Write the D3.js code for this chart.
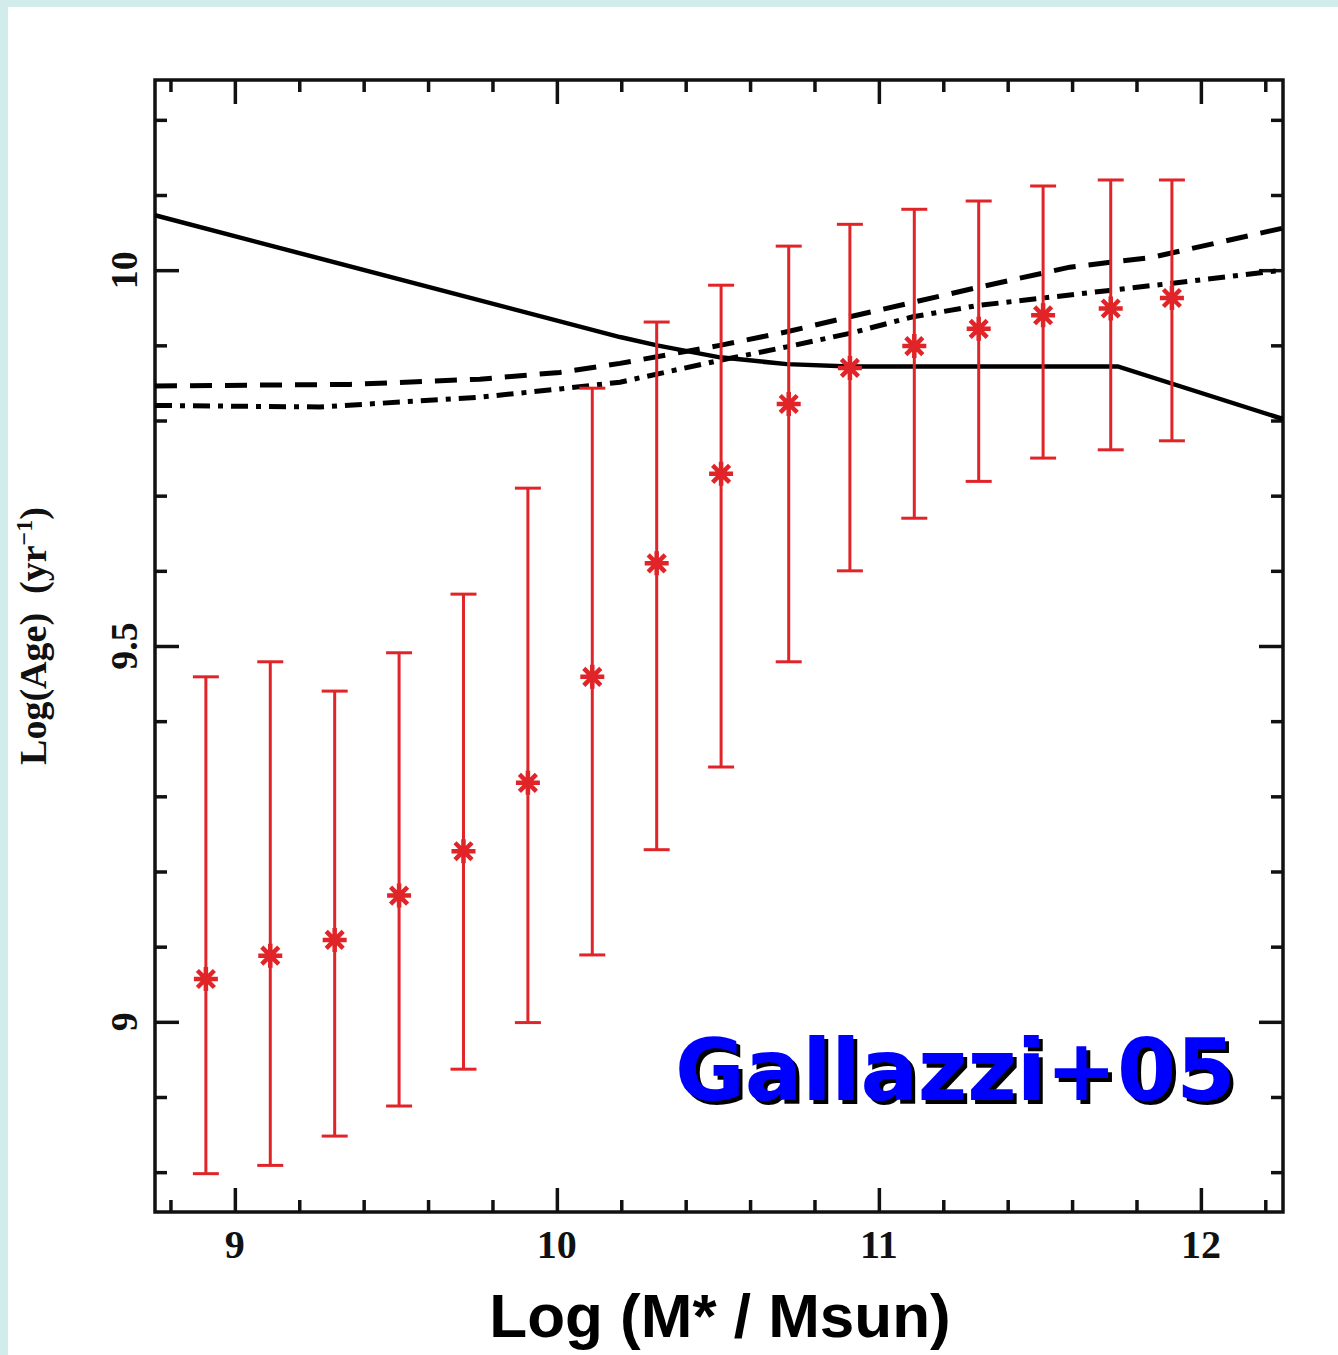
<!DOCTYPE html>
<html lang="en">
<head>
    <meta charset="UTF-8">
    <title>Log(Age) vs Log(M*/Msun) - Gallazzi+05</title>
    <script src="https://d3js.org/d3.v7.min.js"></script>
    <style>
        body {
            margin: 0;
            padding: 0;
            background-color: #d2ecec;
        }
        svg {
            display: block;
        }
        .tick-label {
            font-family: "Liberation Serif", "Times New Roman", serif;
            font-weight: bold;
            fill: #111;
        }
    </style>
</head>
<body>
    <svg width="1338" height="1355"></svg>
    <script>
        // stellar mass bins (log M*)
        const massBins = [8.91, 9.11, 9.31, 9.51, 9.71, 9.91, 10.11, 10.31, 10.51, 10.72, 10.91, 11.11, 11.31, 11.51, 11.72, 11.91];
        // median log age and the spread around it
        const ageMedian = [9.057, 9.088, 9.109, 9.168, 9.227, 9.318, 9.459, 9.61, 9.729, 9.822, 9.870, 9.899, 9.922, 9.940, 9.949, 9.963];
        const ageHigh = [9.459, 9.479, 9.44, 9.491, 9.569, 9.71, 9.843, 9.931, 9.98, 10.032, 10.061, 10.081, 10.092, 10.112, 10.12, 10.12];
        const ageLow = [8.798, 8.809, 8.848, 8.888, 8.937, 8.999, 9.089, 9.229, 9.339, 9.479, 9.6, 9.67, 9.719, 9.75, 9.761, 9.773];

        // model curves
        const solidCurve = [[8.752, 10.073], [10.196, 9.911], [10.311, 9.900], [10.506, 9.884], [10.714, 9.875], [10.910, 9.872], [11.742, 9.872], [12.255, 9.802]];
        const dashedCurve = [[8.752, 9.846], [9.357, 9.848], [9.761, 9.855], [10.009, 9.864], [10.196, 9.876], [10.506, 9.900], [10.714, 9.918], [10.910, 9.938], [11.307, 9.977], [11.593, 10.004], [11.848, 10.017], [12.255, 10.056]];
        const dashDotCurve = [[8.752, 9.820], [9.264, 9.818], [9.761, 9.831], [10.009, 9.842], [10.196, 9.851], [10.506, 9.880], [10.714, 9.898], [10.910, 9.916], [11.106, 9.938], [11.307, 9.953], [11.531, 9.964], [11.919, 9.983], [12.255, 10.000]];

        const xTickLabels = [9, 10, 11, 12];
        const yTickLabels = [9, 9.5, 10];

        const svg = d3.select("svg");

        // drop shadow for the blue label
        svg.append("defs").append("filter")
            .attr("id", "shadow")
            .attr("x", "-5%").attr("y", "-10%")
            .attr("width", "115%").attr("height", "130%")
            .append("feDropShadow")
            .attr("dx", 4).attr("dy", 4)
            .attr("stdDeviation", 0)
            .attr("flood-color", "#000")
            .attr("flood-opacity", 1);

        // white panel over the cyan page
        svg.append("rect")
            .attr("x", 8).attr("y", 7)
            .attr("width", 1330).attr("height", 1348)
            .attr("fill", "#ffffff");

        const plotLeft = 155, plotRight = 1283, plotTop = 80, plotBottom = 1212;

        const x = d3.scaleLinear().domain([8.752, 12.255]).range([plotLeft, plotRight]);
        const y = d3.scaleLinear().domain([8.747, 10.253]).range([plotBottom, plotTop]);

        const xMajor = d3.range(9, 12.01, 1);
        const xMinor = d3.range(8.8, 12.25, 0.2).filter(v => Math.abs(v - Math.round(v)) > 0.01);
        const yMajor = d3.range(9, 10.01, 0.5);
        const yMinor = d3.range(8.8, 10.25, 0.1).filter(v => Math.abs(v * 2 - Math.round(v * 2)) > 0.01);

        function tickAxis(axisFn, scale, values, size, transform) {
            const g = svg.append("g")
                .attr("transform", transform)
                .call(axisFn(scale).tickValues(values).tickSize(size).tickFormat(""));
            g.select(".domain").remove();
            g.selectAll(".tick line").attr("stroke", "#111").attr("stroke-width", 3.5);
            return g;
        }

        // inward ticks on all four sides
        tickAxis(d3.axisBottom, x, xMajor, -24, `translate(0,${plotBottom})`);
        tickAxis(d3.axisBottom, x, xMinor, -12, `translate(0,${plotBottom})`);
        tickAxis(d3.axisTop, x, xMajor, -24, `translate(0,${plotTop})`);
        tickAxis(d3.axisTop, x, xMinor, -12, `translate(0,${plotTop})`);
        tickAxis(d3.axisLeft, y, yMajor, -24, `translate(${plotLeft},0)`);
        tickAxis(d3.axisLeft, y, yMinor, -12, `translate(${plotLeft},0)`);
        tickAxis(d3.axisRight, y, yMajor, -24, `translate(${plotRight},0)`);
        tickAxis(d3.axisRight, y, yMinor, -12, `translate(${plotRight},0)`);

        // frame
        svg.append("rect")
            .attr("x", plotLeft).attr("y", plotTop)
            .attr("width", plotRight - plotLeft).attr("height", plotBottom - plotTop)
            .attr("fill", "none")
            .attr("stroke", "#111")
            .attr("stroke-width", 3.5);

        // tick labels
        svg.append("g").selectAll("text")
            .data(xTickLabels)
            .join("text")
            .attr("class", "tick-label")
            .attr("x", d => x(d))
            .attr("y", 1258)
            .attr("text-anchor", "middle")
            .attr("font-size", 40)
            .text(d => d);

        svg.append("g").selectAll("text")
            .data(yTickLabels)
            .join("text")
            .attr("class", "tick-label")
            .attr("transform", d => `translate(137,${y(d)}) rotate(-90)`)
            .attr("text-anchor", "middle")
            .attr("font-size", 38)
            .text(d => d);

        // model lines
        const line = d3.line().x(d => x(d[0])).y(d => y(d[1]));

        svg.append("path")
            .datum(solidCurve)
            .attr("d", line)
            .attr("fill", "none")
            .attr("stroke", "#000")
            .attr("stroke-width", 4.5);

        svg.append("path")
            .datum(dashedCurve)
            .attr("d", line)
            .attr("fill", "none")
            .attr("stroke", "#000")
            .attr("stroke-width", 5)
            .attr("stroke-dasharray", "22,13");

        svg.append("path")
            .datum(dashDotCurve)
            .attr("d", line)
            .attr("fill", "none")
            .attr("stroke", "#000")
            .attr("stroke-width", 5)
            .attr("stroke-dasharray", "17,8,5,8");

        // error bars
        const red = "#e02428";
        const bars = massBins.map((m, i) => ({ m, med: ageMedian[i], lo: ageLow[i], hi: ageHigh[i] }));
        const capW = 13;

        const eb = svg.append("g")
            .attr("stroke", red)
            .attr("stroke-width", 3)
            .attr("fill", "none");

        eb.selectAll("line.v")
            .data(bars)
            .join("line")
            .attr("class", "v")
            .attr("x1", d => x(d.m)).attr("x2", d => x(d.m))
            .attr("y1", d => y(d.lo)).attr("y2", d => y(d.hi));

        eb.selectAll("line.top")
            .data(bars)
            .join("line")
            .attr("class", "top")
            .attr("x1", d => x(d.m) - capW).attr("x2", d => x(d.m) + capW)
            .attr("y1", d => y(d.hi)).attr("y2", d => y(d.hi));

        eb.selectAll("line.bot")
            .data(bars)
            .join("line")
            .attr("class", "bot")
            .attr("x1", d => x(d.m) - capW).attr("x2", d => x(d.m) + capW)
            .attr("y1", d => y(d.lo)).attr("y2", d => y(d.lo));

        // eight-armed asterisk marker
        const starType = {
            draw(context, size) {
                const r = Math.sqrt(size) / 2;
                for (let k = 0; k < 4; k++) {
                    const a = k * Math.PI / 4;
                    context.moveTo(r * Math.cos(a), r * Math.sin(a));
                    context.lineTo(-r * Math.cos(a), -r * Math.sin(a));
                }
            }
        };
        const star = d3.symbol().type(starType).size(576);
        svg.append("g").selectAll("path")
            .data(bars)
            .join("path")
            .attr("transform", d => `translate(${x(d.m)},${y(d.med)})`)
            .attr("d", star)
            .attr("fill", "none")
            .attr("stroke", red)
            .attr("stroke-width", 4.5);

        // axis titles
        svg.append("text")
            .attr("transform", "translate(46,636) rotate(-90)")
            .attr("text-anchor", "middle")
            .attr("font-family", "Liberation Serif, serif")
            .attr("font-weight", "bold")
            .attr("font-size", 38)
            .attr("fill", "#111")
            .call(t => {
                t.append("tspan").text("Log(Age)\u00a0\u00a0(yr");
                t.append("tspan").attr("font-size", 24).attr("dy", -14).text("\u2212" + "1");
                t.append("tspan").attr("dy", 14).text(")");
            });

        svg.append("text")
            .attr("x", 720)
            .attr("y", 1337)
            .attr("text-anchor", "middle")
            .attr("font-family", "Liberation Sans, Arial, sans-serif")
            .attr("font-weight", "bold")
            .attr("font-size", 62)
            .attr("fill", "#000")
            .text("Log (M* / Msun)");

        // blue label with black drop shadow
        svg.append("text")
            .attr("x", 675).attr("y", 1100)
            .attr("font-family", "DejaVu Sans, sans-serif")
            .attr("font-weight", "bold")
            .attr("font-size", 85)
            .attr("fill", "#0000ff")
            .attr("filter", "url(#shadow)")
            .text("Gallazzi+05");
    </script>
</body>
</html>
